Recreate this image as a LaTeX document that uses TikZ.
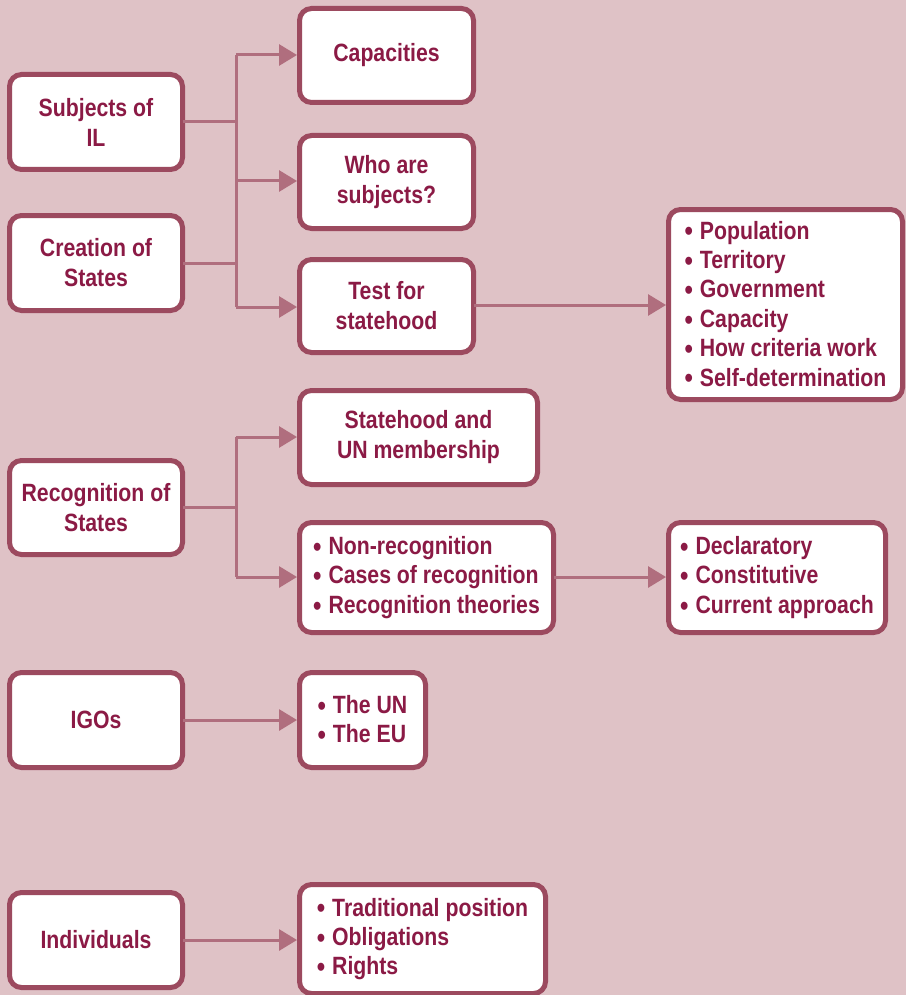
\documentclass[tikz,border=0pt]{standalone}
\usepackage{fontspec}
\setmainfont{Liberation Sans}[FakeStretch=0.85]
\usetikzlibrary{arrows.meta}
\definecolor{bgpink}{HTML}{DFC2C6}
\definecolor{boxedge}{HTML}{9C4A5F}
\definecolor{boxtext}{HTML}{8B1A45}
\definecolor{linkcol}{HTML}{B06E7E}
\tikzset{
  box/.style={draw=boxedge, line width=5pt, fill=white, rounded corners=12pt,
    text=boxtext, font=\fontsize{25}{30}\selectfont\bfseries, align=center,
    inner sep=0pt, outer sep=0pt},
  listbox/.style={box, align=left, font=\fontsize{25}{29.4}\selectfont\bfseries},
  link/.style={draw=linkcol, line width=3pt},
  linkarrow/.style={link, -{Triangle[length=18pt,width=21pt]}, shorten >=2.5pt},
}
% list bullet, a little larger than the font's own
\newcommand{\itm}{\raisebox{-1.8pt}{\fontsize{28}{28}\selectfont\textbullet}\hspace{7pt}}
% box from left/top/right/bottom outer edges (in px)
\newcommand{\mybox}[6][box]{%
  \node[#1, minimum width={#5-#3-5pt}, minimum height={#6-#4-5pt}]
    (#2) at ({(#3+#5)/2},{(#4+#6)/2}) }
\begin{document}
\begin{tikzpicture}[x=1pt,y=-1pt]
\fill[bgpink] (0,0) rectangle (906,995);
\useasboundingbox (0,0) rectangle (906,995);

\mybox{subj}{7}{72}{185}{172} {Subjects of\\IL};
\mybox{creat}{7}{213}{185}{313} {Creation of\\States};
\mybox{capac}{297}{6}{476}{105} {Capacities};
\mybox{who}{297}{133}{476}{231} {Who are\\subjects?};
\mybox{test}{297}{257}{476}{355} {Test for\\statehood};
\mybox[listbox]{crit}{666}{207}{905}{402}
  {\itm Population\\\itm Territory\\\itm Government\\
   \itm Capacity\\\itm How criteria work\\\itm Self-determination};
\mybox{recog}{7}{458}{185}{557} {Recognition of\\States};
\mybox{unmem}{297}{388}{540}{487} {Statehood and\\UN membership};
\mybox[listbox]{nonrec}{297}{520}{556}{635}
  {\itm Non-recognition\\\itm Cases of recognition\\\itm Recognition theories};
\mybox[listbox]{theor}{666}{520}{888}{635}
  {\itm Declaratory\\\itm Constitutive\\\itm Current approach};
\mybox{igos}{7}{670}{185}{770} {IGOs};
\mybox[listbox]{unlist}{297}{670}{428}{770} {\itm The UN\\\itm The EU};
\mybox{indiv}{7}{890}{185}{990} {Individuals};
\mybox[listbox]{indlist}{297}{882}{548}{996}
  {\itm Traditional position\\\itm Obligations\\\itm Rights};

% branching connectors: subjects / creation of states
\coordinate (t1) at (236,55);
\coordinate (t2) at (236,181);
\coordinate (t3) at (236,307);
\draw[link] (subj.east |- 0,122) -- (236,122);
\draw[link] (creat.east |- 0,263) -- (236,263);
\draw[link] (t1) -- (t3);
\draw[linkarrow] (t1) -- (t1 -| capac.west);
\draw[linkarrow] (t2) -- (t2 -| who.west);
\draw[linkarrow] (t3) -- (t3 -| test.west);
\draw[linkarrow] (test.east |- 0,305) -- (crit.west |- 0,305);

% recognition of states
\coordinate (r1) at (236,437);
\coordinate (r2) at (236,577);
\draw[link] (recog.east |- 0,507) -- (236,507);
\draw[link] (r1) -- (r2);
\draw[linkarrow] (r1) -- (r1 -| unmem.west);
\draw[linkarrow] (r2) -- (r2 -| nonrec.west);
\draw[linkarrow] (nonrec.east |- 0,577) -- (theor.west |- 0,577);

% IGOs and individuals
\draw[linkarrow] (igos.east) -- (igos.east -| unlist.west);
\draw[linkarrow] (indiv.east) -- (indiv.east -| indlist.west);
\end{tikzpicture}
\end{document}
